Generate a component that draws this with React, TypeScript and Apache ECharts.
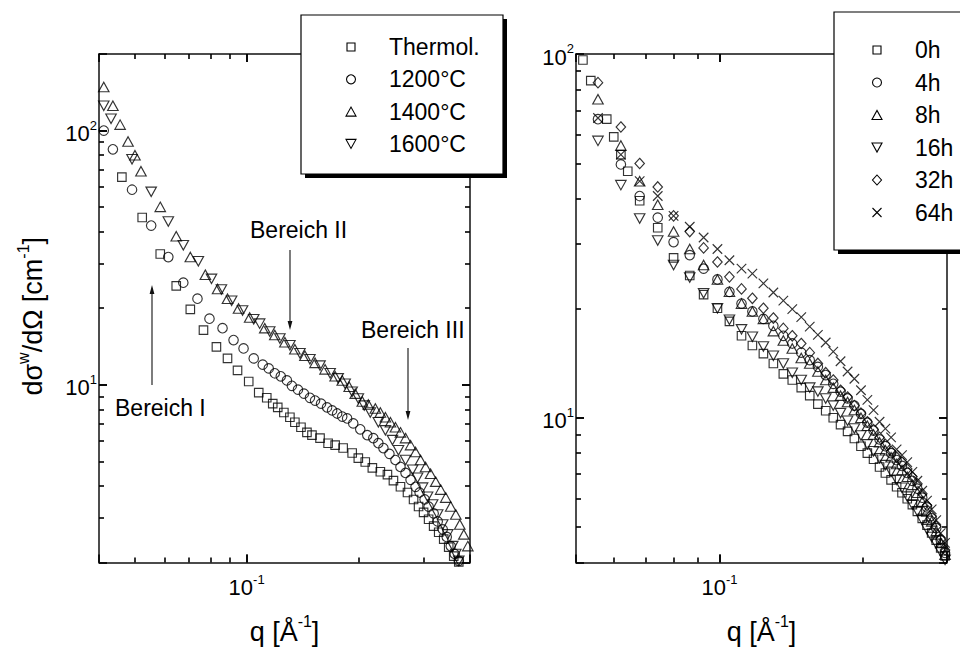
import React, { useEffect, useRef } from 'react';
import * as echarts from 'echarts';

const FONT = '"Liberation Sans", Arial, Helvetica, sans-serif';

// ---------------- Left panel (temperature series) ----------------
const qThermol = [0.0461, 0.0523, 0.0585, 0.0646, 0.0705, 0.0765, 0.0829, 0.0888, 0.0945, 0.1013, 0.1078, 0.1133, 0.1176, 0.1213, 0.126, 0.1308, 0.1349, 0.1401, 0.1454, 0.150, 0.1577, 0.1658, 0.1732, 0.182, 0.1925, 0.2, 0.2088, 0.2182, 0.2293, 0.2396, 0.2487, 0.2598, 0.2714, 0.2818, 0.2907, 0.2999, 0.3094, 0.3192, 0.3294, 0.3398, 0.3505, 0.3616, 0.3731];
const iThermol = [65.6, 45.5, 32.7, 24.5, 19.8, 16.4, 14.1, 12.7, 11.4, 10.3, 9.31, 8.89, 8.43, 8.15, 7.78, 7.45, 7.12, 6.81, 6.50, 6.34, 6.17, 5.89, 5.79, 5.64, 5.39, 5.15, 4.97, 4.71, 4.55, 4.43, 4.20, 3.97, 3.77, 3.54, 3.32, 3.15, 2.96, 2.78, 2.63, 2.47, 2.30, 2.12, 2.01];

const q1200 = [0.0412, 0.0436, 0.0491, 0.0553, 0.0615, 0.0675, 0.0737, 0.0794, 0.0861, 0.0922, 0.0981, 0.1045, 0.1105, 0.1147, 0.1191, 0.1236, 0.1284, 0.1324, 0.1375, 0.1427, 0.1481, 0.1529, 0.1587, 0.1647, 0.170, 0.1754, 0.181, 0.1866, 0.1938, 0.2024, 0.2114, 0.2195, 0.2265, 0.2337, 0.2426, 0.2518, 0.2598, 0.2681, 0.2766, 0.2853, 0.2925, 0.3018, 0.3094, 0.3192, 0.3273, 0.3377, 0.3462, 0.3549, 0.3639, 0.3731];
const i1200 = [100, 84.4, 58.5, 42.3, 31.8, 25.2, 21.8, 18.2, 16.7, 15.0, 13.9, 12.7, 12.0, 11.6, 11.1, 10.8, 10.4, 9.91, 9.57, 9.23, 8.89, 8.67, 8.43, 8.15, 7.93, 7.71, 7.50, 7.37, 7.05, 6.68, 6.34, 6.17, 5.89, 5.64, 5.35, 5.06, 4.75, 4.50, 4.23, 3.97, 3.77, 3.54, 3.32, 3.12, 2.90, 2.70, 2.52, 2.32, 2.16, 2.03];

const q1400 = [0.0412, 0.0436, 0.0456, 0.0479, 0.0500, 0.0519, 0.0585, 0.0646, 0.0705, 0.0774, 0.0835, 0.0888, 0.0951, 0.1019, 0.1119, 0.1191, 0.1268, 0.1349, 0.1436, 0.1529, 0.1627, 0.1732, 0.181, 0.189, 0.1962, 0.205, 0.2128, 0.2223, 0.2293, 0.2366, 0.2441, 0.2518, 0.2598, 0.2681, 0.2766, 0.2853, 0.2943, 0.3036, 0.3132, 0.3233, 0.3334, 0.3441, 0.3549, 0.3662, 0.3754, 0.3849, 0.3946];
const i1400 = [148.3, 125.1, 105.5, 90.6, 79.9, 69.2, 50.1, 38.4, 31.8, 27.1, 23.8, 21.8, 19.95, 18.4, 16.7, 15.7, 14.7, 13.8, 13.0, 12.2, 11.5, 10.8, 10.4, 9.82, 9.23, 8.59, 8.36, 8.07, 7.78, 7.45, 7.12, 6.81, 6.50, 6.17, 5.79, 5.44, 5.06, 4.75, 4.47, 4.16, 3.87, 3.60, 3.32, 3.09, 2.82, 2.58, 2.32];

const q1600 = [0.0412, 0.0431, 0.0491, 0.0553, 0.0615, 0.0675, 0.0741, 0.0804, 0.0855, 0.0911, 0.0975, 0.1045, 0.1084, 0.1154, 0.1229, 0.1308, 0.1392, 0.1481, 0.1577, 0.1679, 0.1765, 0.1843, 0.1925, 0.2, 0.2075, 0.2154, 0.2265, 0.2366, 0.2472, 0.2566, 0.2681, 0.2801, 0.2889, 0.298, 0.3074, 0.3172, 0.3273, 0.3377, 0.3483, 0.3594, 0.3662, 0.3731];
const i1600 = [125.1, 111.3, 77.1, 57.4, 43.9, 35.4, 30.6, 26.1, 23.7, 21.4, 19.6, 18.1, 17.4, 16.2, 15.2, 14.3, 13.3, 12.6, 11.9, 11.1, 10.6, 10.1, 9.39, 8.83, 8.28, 7.78, 7.12, 6.62, 6.06, 5.53, 5.06, 4.63, 4.31, 3.94, 3.63, 3.38, 3.09, 2.82, 2.58, 2.32, 2.16, 2.03];

// ---------------- Right panel (annealing time series) ----------------
const qRight = [0.0556, 0.0621, 0.068, 0.0742, 0.0801, 0.0866, 0.0926, 0.099, 0.1049, 0.1112, 0.1172, 0.1236, 0.1297, 0.1361, 0.1421, 0.1484, 0.1546, 0.1608, 0.167, 0.1732, 0.1794, 0.1856, 0.1918, 0.198, 0.2042, 0.2104, 0.2166, 0.2228, 0.229, 0.2352, 0.2414, 0.2476, 0.2538, 0.26, 0.2662, 0.2724, 0.2786, 0.2848, 0.291, 0.2972];
const q0hLow = [0.0517, 0.0537, 0.058, 0.060, 0.0642];
const i0hLow = [96.3, 84.5, 66.2, 59.2, 47.6];
const i0h = [null, 52.9, 39.5, 33.3, 27.5, 24.6, 21.8, 20.0, 18.4, 16.8, 15.8, 15.0, 14.1, 13.2, 12.7, 12.1, 11.5, 10.9, 10.45, 10.0, 9.57, 9.17, 8.77, 8.35, 7.99, 7.69, 7.32, 7.05, 6.75, 6.46, 6.22, 5.99, 5.77, 5.53, 5.29, 5.07, 4.82, 4.61, 4.39, 4.17];
const i4h = [66.2, 49.7, 40.7, 35.5, 30.4, 28.0, 25.7, 24.0, 22.2, 20.6, 19.6, 18.7, 17.9, 16.8, 16.0, 15.1, 14.4, 13.8, 13.1, 12.4, 11.8, 11.3, 10.8, 10.25, 9.69, 9.22, 8.72, 8.35, 7.99, 7.65, 7.37, 7.05, 6.71, 6.38, 6.03, 5.67, 5.29, 4.97, 4.61, 4.25];
const i8h = [75.1, 56.0, 44.7, 38.5, 32.5, 29.1, 26.3, 24.0, 22.2, 20.6, 19.6, 18.7, 17.3, 16.3, 15.5, 14.6, 14.1, 13.4, 12.7, 12.1, 11.5, 11.05, 10.5, 10.0, 9.51, 8.99, 8.56, 8.14, 7.79, 7.46, 7.18, 6.88, 6.54, 6.22, 5.88, 5.53, 5.19, 4.88, 4.53, 4.20];
const i16h = [57.7, 43.6, 35.3, 30.7, 26.3, 24.3, 22.0, 20.0, 18.6, 17.5, 16.7, 15.7, 14.8, 14.1, 13.3, 12.7, 12.1, 11.8, 11.3, 10.8, 10.3, 9.81, 9.34, 8.94, 8.45, 8.09, 7.74, 7.41, 7.10, 6.75, 6.42, 6.07, 5.77, 5.53, 5.23, 4.94, 4.70, 4.50, 4.28, 4.07];
const i32h = [83.4, 63.0, 50.0, 43.1, 35.9, 32.5, 29.3, 26.8, 24.4, 22.6, 21.3, 20.0, 18.8, 17.6, 16.8, 16.0, 15.1, 14.1, 13.3, 12.7, 11.9, 11.4, 10.8, 10.3, 9.75, 9.28, 8.83, 8.45, 8.09, 7.79, 7.55, 7.23, 6.88, 6.58, 6.18, 5.74, 5.36, 5.03, 4.64, 4.33];
const i64h = [66.7, 52.9, 44.7, 40.7, 35.9, 33.5, 31.3, 29.1, 27.1, 25.7, 24.9, 23.4, 22.1, 21.0, 19.9, 18.9, 17.8, 16.9, 16.1, 15.2, 14.3, 13.4, 12.8, 11.9, 11.2, 10.5, 9.75, 9.34, 8.83, 8.19, 7.89, 7.55, 7.10, 6.71, 6.30, 5.92, 5.60, 5.23, 4.82, 4.53];

// ---------------- Axes ranges and ticks ----------------
const leftXRange = [0.04, 0.4];
const leftYRange = [2, 200];
const rightXRange = [0.05, 0.3];
const rightYRange = [4, 100];
const leftXMajor = [0.1];
const leftYMajor = [10, 100];
const rightXMajor = [0.1];
const rightYMajor = [10];
const leftXMinor = [0.05, 0.06, 0.07, 0.08, 0.09, 0.2, 0.3];
const leftYMinor = [3, 4, 5, 6, 7, 8, 9, 20, 30, 40, 50, 60, 70, 80, 90];
const rightXMinor = [0.06, 0.07, 0.08, 0.09, 0.2];
const rightYMinor = [5, 6, 7, 8, 9, 20, 30, 40, 50, 60, 70, 80, 90];

const leftNames = ['Thermol.', '1200°C', '1400°C', '1600°C'];
const leftKinds = ['square', 'circle', 'up', 'down'];
const rightNames = ['0h', '4h', '8h', '16h', '32h', '64h'];
const rightKinds = ['square', 'circle', 'up', 'down', 'diamond', 'cross'];

const GRID_W = 371;
const GRID_H = 516;
const MINOR_LEN = 5;
const MAJOR_LEN = 8;

const SYMBOLS: Record<string, { symbol: string; size: any }> = {
  square: { symbol: 'rect', size: 8.5 },
  circle: { symbol: 'circle', size: 9.5 },
  up: { symbol: 'triangle', size: [10.5, 9.5] },
  down: { symbol: 'path://M0,0L10,0L5,9Z', size: [10.5, 9.5] },
  diamond: { symbol: 'diamond', size: [9.5, 10.5] },
  cross: { symbol: 'path://M0,0L10,10M10,0L0,10', size: 9.5 },
};

const zip = (xs: number[], ys: (number | null)[]) =>
  xs.map((x, i) => [x, ys[i]]).filter((p) => p[1] != null);

// Tick segments (in data coordinates) drawn with markLine on the log axes.
function tickSegments(xr: number[], yr: number[], xMinor: number[], xMajor: number[], yMinor: number[], yMajor: number[]) {
  const fx = (len: number) => Math.pow(xr[1] / xr[0], len / GRID_W);
  const fy = (len: number) => Math.pow(yr[1] / yr[0], len / GRID_H);
  const segs: any[] = [];
  const addX = (v: number, len: number) => {
    segs.push([{ coord: [v, yr[0]] }, { coord: [v, yr[0] * fy(len)] }]);
    segs.push([{ coord: [v, yr[1]] }, { coord: [v, yr[1] / fy(len)] }]);
  };
  const addY = (v: number, len: number) => {
    segs.push([{ coord: [xr[0], v] }, { coord: [xr[0] * fx(len), v] }]);
    segs.push([{ coord: [xr[1], v] }, { coord: [xr[1] / fx(len), v] }]);
  };
  xMinor.forEach((v) => addX(v, MINOR_LEN));
  xMajor.forEach((v) => addX(v, MAJOR_LEN));
  yMinor.forEach((v) => addY(v, MINOR_LEN));
  yMajor.forEach((v) => addY(v, MAJOR_LEN));
  return segs;
}

function scatter(name: string, data: any[], kind: string, idx: number, ticks?: any[]) {
  const s = SYMBOLS[kind];
  const ser: any = {
    type: 'scatter',
    name,
    xAxisIndex: idx,
    yAxisIndex: idx,
    data,
    symbol: s.symbol,
    symbolSize: s.size,
    itemStyle: { color: 'rgba(0,0,0,0)', borderColor: '#000', borderWidth: 1.15 },
    silent: true,
    z: 3,
  };
  if (ticks) {
    ser.markLine = {
      silent: true,
      animation: false,
      symbol: ['none', 'none'],
      label: { show: false },
      emphasis: { disabled: true },
      lineStyle: { color: '#000', width: 1.6, type: 'solid', opacity: 1 },
      data: ticks,
    };
  }
  return ser;
}

const pow10 = (v: number) => {
  const e = Math.log10(v);
  const r = Math.round(e);
  return Math.abs(e - r) < 1e-6 ? `{b|10}{s|${r}}` : '';
};
const labelRich = {
  b: { fontFamily: FONT, fontSize: 22, lineHeight: 30, color: '#000' },
  s: { fontFamily: FONT, fontSize: 13, color: '#000', verticalAlign: 'top' },
};
const nameRich = {
  b: { fontFamily: FONT, fontSize: 27, lineHeight: 36, color: '#000' },
  s: { fontFamily: FONT, fontSize: 16, color: '#000', verticalAlign: 'top' },
};
const axLine = { show: true, onZero: false, lineStyle: { color: '#111', width: 1.5 } };
const axTick = { show: true, inside: true, length: MAJOR_LEN, lineStyle: { color: '#000', width: 1.6 } };
const labelBase = { fontFamily: FONT, fontSize: 22, color: '#000', rich: labelRich, showMinLabel: true, showMaxLabel: true, formatter: pow10 };

function xAxes(grid: number, r: number[]) {
  const base = { type: 'log', logBase: 10, gridIndex: grid, min: r[0], max: r[1], axisLine: axLine, axisTick: axTick, splitLine: { show: false } };
  return [
    {
      ...base,
      position: 'bottom',
      axisLabel: { ...labelBase, margin: 10 },
      name: '{b|q [Å}{s|-1}{b|]}',
      nameLocation: 'middle',
      nameGap: 51,
      nameTextStyle: { fontFamily: FONT, fontSize: 27, color: '#000', rich: nameRich },
    },
    { ...base, position: 'top', axisLabel: { show: false } },
  ];
}

function yAxes(grid: number, r: number[], withName: boolean) {
  const base = { type: 'log', logBase: 10, gridIndex: grid, min: r[0], max: r[1], axisLine: axLine, axisTick: axTick, splitLine: { show: false } };
  const main: any = {
    ...base,
    position: 'left',
    axisLabel: { ...labelBase, margin: 2, padding: [6, 0, 0, 0] },
  };
  if (withName) {
    main.name = '{b|dσ}{s|w}{b|/dΩ [cm}{s|-1}{b|]}';
    main.nameLocation = 'middle';
    main.nameGap = 48;
    main.nameTextStyle = { fontFamily: FONT, fontSize: 27, color: '#000', rich: nameRich, padding: [0, 16, 0, 0] };
  }
  return [main, { ...base, position: 'right', axisLabel: { show: false } }];
}

function legendSymbol(kind: string, cx: number, cy: number) {
  const style = { fill: '#fff', stroke: '#000', lineWidth: 1.1 };
  const z = 102;
  switch (kind) {
    case 'square':
      return { type: 'rect', z, shape: { x: cx - 4, y: cy - 4, width: 8, height: 8 }, style };
    case 'circle':
      return { type: 'circle', z, shape: { cx, cy, r: 4.5 }, style };
    case 'up':
      return { type: 'polygon', z, shape: { points: [[cx - 5, cy + 4.5], [cx + 5, cy + 4.5], [cx, cy - 4.5]] }, style };
    case 'down':
      return { type: 'polygon', z, shape: { points: [[cx - 5, cy - 4.5], [cx + 5, cy - 4.5], [cx, cy + 4.5]] }, style };
    case 'diamond':
      return { type: 'polygon', z, shape: { points: [[cx, cy - 5], [cx + 4.5, cy], [cx, cy + 5], [cx - 4.5, cy]] }, style };
    default:
      return {
        type: 'group',
        z,
        children: [
          { type: 'line', z, shape: { x1: cx - 4.5, y1: cy - 4.5, x2: cx + 4.5, y2: cy + 4.5 }, style: { stroke: '#000', lineWidth: 1.1 } },
          { type: 'line', z, shape: { x1: cx + 4.5, y1: cy - 4.5, x2: cx - 4.5, y2: cy + 4.5 }, style: { stroke: '#000', lineWidth: 1.1 } },
        ],
      };
  }
}

function legendBox(x: number, y: number, w: number, h: number, names: string[], kinds: string[], symX: number, textX: number, row0: number, rowGap: number) {
  const els: any[] = [
    { type: 'rect', z: 100, shape: { x: x + 4, y: y + 4, width: w, height: h }, style: { fill: '#000' } },
    { type: 'rect', z: 101, shape: { x, y, width: w, height: h }, style: { fill: '#fff', stroke: '#000', lineWidth: 1.2 } },
  ];
  names.forEach((n, i) => {
    const cy = row0 + rowGap * i;
    els.push(legendSymbol(kinds[i], symX, cy));
    els.push({
      type: 'text',
      z: 102,
      x: textX,
      y: cy,
      style: { text: n, fill: '#000', fontFamily: FONT, fontSize: 23, align: 'left', verticalAlign: 'middle', textAlign: 'left', textVerticalAlign: 'middle' },
    });
  });
  return els;
}

function annotText(text: string, x: number, y: number) {
  return {
    type: 'text',
    z: 90,
    x,
    y,
    style: { text, fill: '#000', fontFamily: FONT, fontSize: 23, align: 'left', verticalAlign: 'middle', textAlign: 'left', textVerticalAlign: 'middle' },
  };
}

function arrow(x: number, yFrom: number, yTip: number) {
  const dir = yTip > yFrom ? 1 : -1;
  return [
    { type: 'line', z: 90, shape: { x1: x, y1: yFrom, x2: x, y2: yTip - dir * 7 }, style: { stroke: '#111', lineWidth: 1.1 } },
    { type: 'polygon', z: 90, shape: { points: [[x, yTip], [x - 2.4, yTip - dir * 9], [x + 2.4, yTip - dir * 9]] }, style: { fill: '#111' } },
  ];
}

function buildOption() {
  const leftTicks = tickSegments(leftXRange, leftYRange, leftXMinor, leftXMajor, leftYMinor, leftYMajor);
  const rightTicks = tickSegments(rightXRange, rightYRange, rightXMinor, rightXMajor, rightYMinor, rightYMajor);
  const series: any[] = [
    scatter(leftNames[0], zip(qThermol, iThermol), leftKinds[0], 0, leftTicks),
    scatter(leftNames[1], zip(q1200, i1200), leftKinds[1], 0),
    scatter(leftNames[2], zip(q1400, i1400), leftKinds[2], 0),
    scatter(leftNames[3], zip(q1600, i1600), leftKinds[3], 0),
    scatter(rightNames[0], [...zip(q0hLow, i0hLow), ...zip(qRight, i0h)], rightKinds[0], 2, rightTicks),
    scatter(rightNames[1], zip(qRight, i4h), rightKinds[1], 2),
    scatter(rightNames[2], zip(qRight, i8h), rightKinds[2], 2),
    scatter(rightNames[3], zip(qRight, i16h), rightKinds[3], 2),
    scatter(rightNames[4], zip(qRight, i32h), rightKinds[4], 2),
    scatter(rightNames[5], zip(qRight, i64h), rightKinds[5], 2),
  ];

  const graphicEls: any[] = [
    ...legendBox(301, 15, 202, 159, leftNames, leftKinds, 351, 389, 47, 32.3),
    ...legendBox(834, 12, 200, 238, rightNames, rightKinds, 877, 915, 50, 32.5),
    annotText('Bereich I', 115, 408),
    ...arrow(152, 385, 285),
    annotText('Bereich II', 250, 230),
    ...arrow(290, 250, 330),
    annotText('Bereich III', 361, 330),
    ...arrow(408, 348, 420),
  ];

  return {
    animation: false,
    backgroundColor: '#fff',
    textStyle: { fontFamily: FONT, color: '#000' },
    grid: [
      { left: 99, top: 54, width: GRID_W, height: GRID_H },
      { left: 576, top: 54, width: GRID_W, height: GRID_H },
    ],
    xAxis: [...xAxes(0, leftXRange), ...xAxes(1, rightXRange)],
    yAxis: [...yAxes(0, leftYRange, true), ...yAxes(1, rightYRange, false)],
    series,
    graphic: { elements: graphicEls },
  };
}

export default function App() {
  const ref = useRef<HTMLDivElement>(null);
  useEffect(() => {
    if (!ref.current) return;
    const chart = echarts.init(ref.current, null, { renderer: 'svg' });
    chart.setOption(buildOption() as any);
    return () => chart.dispose();
  }, []);
  return <div ref={ref} style={{ position: 'absolute', left: 0, top: 0, width: 960, height: 650 }} />;
}
